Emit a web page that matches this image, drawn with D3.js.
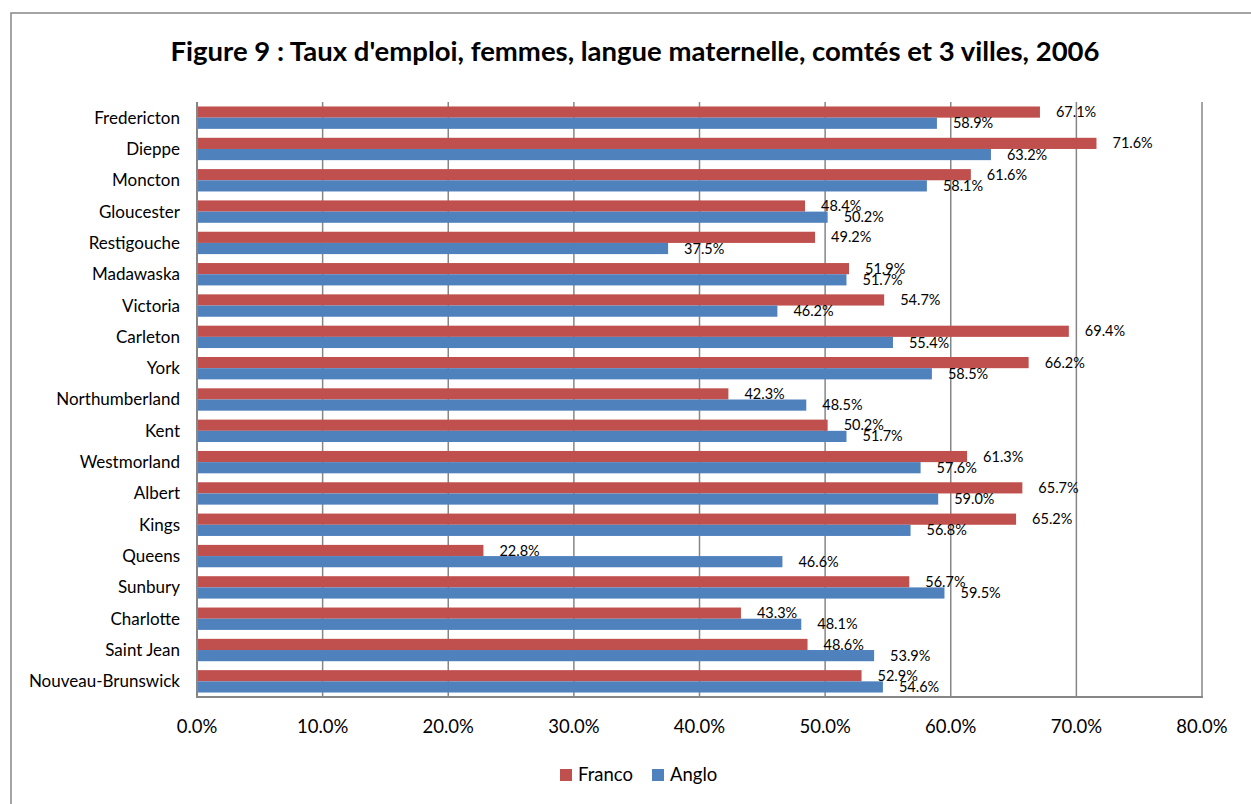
<!DOCTYPE html>
<html>
<head>
<meta charset="utf-8">
<script src="https://cdn.jsdelivr.net/npm/d3@7"></script>
<style>
  body { margin: 0; background: #fff; }
  text { font-family: Lato, "Open Sans", sans-serif; fill: #000; }
</style>
</head>
<body>
<div id="chart"></div>
<script>
// Categories, top to bottom
const regions = ["Fredericton", "Dieppe", "Moncton", "Gloucester", "Restigouche", "Madawaska",
    "Victoria", "Carleton", "York", "Northumberland", "Kent", "Westmorland", "Albert", "Kings",
    "Queens", "Sunbury", "Charlotte", "Saint Jean", "Nouveau-Brunswick"];
const franco = [67.1, 71.6, 61.6, 48.4, 49.2, 51.9, 54.7, 69.4, 66.2, 42.3, 50.2, 61.3, 65.7, 65.2, 22.8, 56.7, 43.3, 48.6, 52.9];
const anglo  = [58.9, 63.2, 58.1, 50.2, 37.5, 51.7, 46.2, 55.4, 58.5, 48.5, 51.7, 57.6, 59.0, 56.8, 46.6, 59.5, 48.1, 53.9, 54.6];
const xTicks = [0, 10, 20, 30, 40, 50, 60, 70, 80];
const seriesNames = ["Franco", "Anglo"];
const colors = ["#C0504D", "#4F81BD"];

const width = 1251, height = 804;
const margin = { top: 102, left: 197, right: 49, bottom: 107 };

const svg = d3.select("#chart").append("svg")
    .attr("width", width)
    .attr("height", height);

// Chart frame (only left/top edges are visible in the picture)
svg.append("rect")
    .attr("x", 11).attr("y", 13)
    .attr("width", width + 20).attr("height", height + 20)
    .attr("fill", "none")
    .attr("stroke", "#868686")
    .attr("stroke-width", 1.5);

// Title
svg.append("text")
    .attr("x", 635).attr("y", 61)
    .attr("text-anchor", "middle")
    .style("font-size", "27.5px")
    .style("font-weight", "bold")
    .text("Figure 9 : Taux d'emploi, femmes, langue maternelle, comtés et 3 villes, 2006");

const x = d3.scaleLinear().domain([0, 80]).range([margin.left, width - margin.right]);
const y = d3.scaleBand().domain(regions).range([margin.top, height - margin.bottom]).paddingInner(0).paddingOuter(0);
const bandInner = d3.scaleBand().domain(seriesNames).range([0, y.bandwidth()]).paddingOuter(0.4).paddingInner(0);

// Gridlines
svg.append("g")
    .selectAll("line")
    .data(xTicks.slice(1))
    .join("line")
    .attr("x1", d => x(d)).attr("x2", d => x(d))
    .attr("y1", margin.top).attr("y2", height - margin.bottom)
    .attr("stroke", "#868686")
    .attr("stroke-width", 1.5);

// Bars
const data = [franco, anglo];
seriesNames.forEach((s, i) => {
    svg.append("g")
        .selectAll("rect")
        .data(regions)
        .join("rect")
        .attr("x", x(0))
        .attr("y", d => y(d) + bandInner(s))
        .attr("width", (d, j) => x(data[i][j]) - x(0))
        .attr("height", bandInner.bandwidth())
        .attr("fill", colors[i]);
});

// Data labels
seriesNames.forEach((s, i) => {
    svg.append("g")
        .selectAll("text")
        .data(regions)
        .join("text")
        .attr("x", (d, j) => x(data[i][j]) + 16)
        .attr("y", d => y(d) + bandInner(s) + bandInner.bandwidth() / 2)
        .attr("dy", "0.35em")
        .style("font-size", "14.5px")
        .text((d, j) => data[i][j].toFixed(1) + "%");
});

// Axes lines
svg.append("line")
    .attr("x1", x(0)).attr("x2", x(0))
    .attr("y1", margin.top).attr("y2", height - margin.bottom + 1)
    .attr("stroke", "#868686").attr("stroke-width", 2);
svg.append("line")
    .attr("x1", x(0) - 1).attr("x2", x(80) + 1)
    .attr("y1", height - margin.bottom).attr("y2", height - margin.bottom)
    .attr("stroke", "#868686").attr("stroke-width", 2);

// X tick labels
svg.append("g")
    .selectAll("text")
    .data(xTicks)
    .join("text")
    .attr("x", d => x(d))
    .attr("y", 733)
    .attr("text-anchor", "middle")
    .style("font-size", "18.5px")
    .text(d => d.toFixed(1) + "%");

// Category labels
svg.append("g")
    .selectAll("text")
    .data(regions)
    .join("text")
    .attr("x", 180)
    .attr("y", d => y(d) + y.bandwidth() / 2)
    .attr("dy", "0.35em")
    .attr("text-anchor", "end")
    .style("font-size", "17px")
    .text(d => d);

// Legend
const legend = svg.append("g").attr("transform", "translate(560,775)");
const legendX = [0, 92];
seriesNames.forEach((s, i) => {
    const g = legend.append("g").attr("transform", `translate(${legendX[i]},0)`);
    g.append("rect").attr("x", 0).attr("y", -6).attr("width", 12).attr("height", 12).attr("fill", colors[i]);
    g.append("text").attr("x", 18).attr("y", 0).attr("dy", "0.35em").style("font-size", "18.5px").text(s);
});
</script>
</body>
</html>
